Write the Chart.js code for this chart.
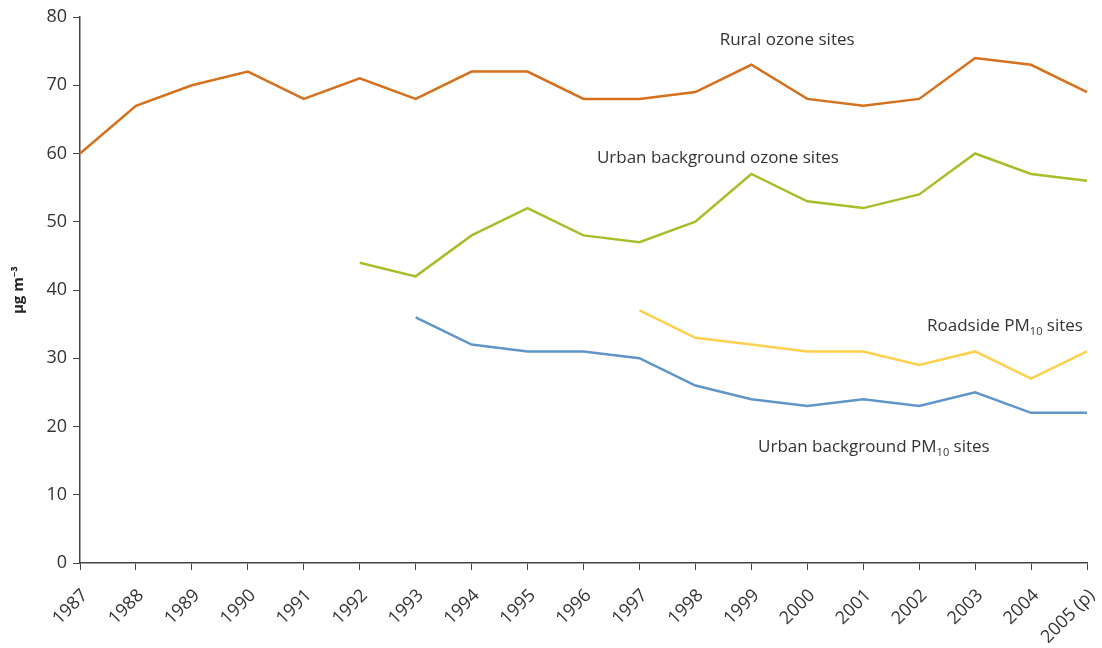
<!DOCTYPE html>
<html>
<head>
<meta charset="utf-8">
<script src="https://cdn.jsdelivr.net/npm/chart.js@4/dist/chart.umd.min.js"></script>
<style>
  html, body { margin: 0; padding: 0; background: #fff; }
  #wrap { width: 1102px; height: 648px; }
</style>
</head>
<body>
<div id="wrap"><canvas id="c"></canvas></div>
<script>
// data
const years = ['1987', '1988', '1989', '1990', '1991', '1992', '1993', '1994', '1995', '1996',
               '1997', '1998', '1999', '2000', '2001', '2002', '2003', '2004', '2005 (p)'];
const ruralOzone = [60, 67, 70, 72, 68, 71, 68, 72, 72, 68, 68, 69, 73, 68, 67, 68, 74, 73, 69];
const urbanOzone = [null, null, null, null, null, 44, 42, 48, 52, 48, 47, 50, 57, 53, 52, 54, 60, 57, 56];
const roadsidePM = [null, null, null, null, null, null, null, null, null, null, 37, 33, 32, 31, 31, 29, 31, 27, 31];
const urbanPM = [null, null, null, null, null, null, 36, 32, 31, 31, 30, 26, 24, 23, 24, 23, 25, 22, 22];
const yTicks = [0, 10, 20, 30, 40, 50, 60, 70, 80];

// series labels: text, subscript, x index, y value, alignment
const seriesLabels = [
  { text: 'Rural ozone sites', sub: '', tail: '', x: 12.64, y: 76.6, align: 'center' },
  { text: 'Urban background ozone sites', sub: '', tail: '', x: 9.24, y: 59.3, align: 'left' },
  { text: 'Roadside PM', sub: '10', tail: ' sites', x: 15.14, y: 34.7, align: 'left' },
  { text: 'Urban background PM', sub: '10', tail: ' sites', x: 12.12, y: 17.0, align: 'left' }
];

const fontFamily = '"Open Sans", "Noto Sans", sans-serif';
const textColor = '#333333';

// 画系列标注
const labelPlugin = {
  id: 'seriesLabels',
  afterDatasetsDraw(chart) {
    const ctx = chart.ctx;
    const xs = chart.scales.x, ys = chart.scales.y;
    ctx.save();
    ctx.fillStyle = textColor;
    ctx.textBaseline = 'middle';
    seriesLabels.forEach(l => {
      const mainFont = '17px ' + fontFamily;
      const subFont = '11px ' + fontFamily;
      ctx.font = mainFont;
      const w1 = ctx.measureText(l.text).width;
      const w3 = ctx.measureText(l.tail).width;
      ctx.font = subFont;
      const w2 = ctx.measureText(l.sub).width;
      const total = w1 + w2 + w3;
      let px = xs.getPixelForValue(l.x);
      const py = ys.getPixelForValue(l.y);
      if (l.align === 'center') px -= total / 2;
      ctx.textAlign = 'left';
      ctx.font = mainFont;
      ctx.fillText(l.text, px, py);
      if (l.sub) {
        ctx.font = subFont;
        ctx.fillText(l.sub, px + w1, py + 6);
        ctx.font = mainFont;
        ctx.fillText(l.tail, px + w1 + w2, py);
      }
    });
    ctx.restore();
  }
};

function line(label, data, color) {
  return {
    label: label,
    data: data,
    borderColor: color,
    backgroundColor: color,
    borderWidth: 2.5,
    pointRadius: 0,
    tension: 0,
    spanGaps: false,
    fill: false
  };
}

new Chart(document.getElementById('c'), {
  type: 'line',
  data: {
    labels: years,
    datasets: [
      line('Rural ozone sites', ruralOzone, '#d5701d'),
      line('Urban background ozone sites', urbanOzone, '#a9bd2b'),
      line('Roadside PM10 sites', roadsidePM, '#fdd04d'),
      line('Urban background PM10 sites', urbanPM, '#5f95c9')
    ]
  },
  options: {
    responsive: true,
    maintainAspectRatio: false,
    animation: false,
    layout: { padding: { top: 17, right: 15, left: 0, bottom: 0 } },
    plugins: {
      legend: { display: false },
      tooltip: { enabled: false }
    },
    scales: {
      x: {
        offset: false,
        grid: { drawOnChartArea: false, drawTicks: true, tickLength: 7, color: '#444' },
        border: { display: true, color: '#444', width: 1.5 },
        ticks: {
          autoSkip: false,
          maxRotation: 45,
          minRotation: 45,
          padding: 15,
          labelOffset: 5,
          color: textColor,
          font: { family: fontFamily, size: 18 }
        },
        afterFit(scale) {
          scale.height = 85;
          scale.paddingLeft = 0;
          scale.paddingRight = 0;
        }
      },
      y: {
        min: 0,
        max: 80,
        afterBuildTicks(scale) { scale.ticks = yTicks.map(v => ({ value: v })); },
        grid: { drawOnChartArea: false, drawTicks: true, tickLength: 7, color: '#444' },
        border: { display: true, color: '#444', width: 1.5 },
        ticks: {
          padding: 6,
          color: textColor,
          font: { family: fontFamily, size: 18 }
        },
        title: {
          display: true,
          text: 'µg m⁻³',
          color: '#222',
          font: { family: fontFamily, size: 15, weight: 'bold' },
          padding: { top: 10, bottom: 4 }
        },
        afterFit(scale) { scale.width = 80; }
      }
    }
  },
  plugins: [labelPlugin]
});
</script>
</body>
</html>
